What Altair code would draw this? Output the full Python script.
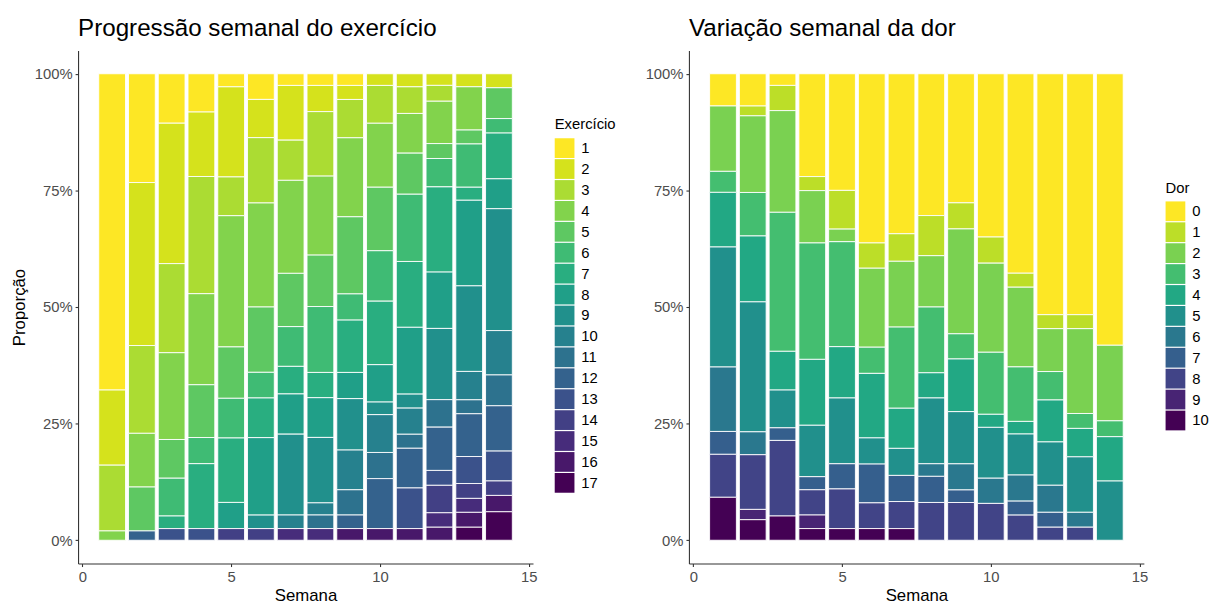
import altair as alt
import pandas as pd

# ---------------- data (percent of each level per week) ----------------
weeks = list(range(1, 15))

ex_levels = [
    [1, 2, 3, 4],
    [1, 2, 3, 4, 5, 12],
    [1, 2, 3, 4, 5, 6, 7, 13],
    [1, 2, 3, 4, 5, 6, 7, 13],
    [1, 2, 3, 4, 5, 6, 7, 8, 14],
    [1, 2, 3, 4, 5, 6, 7, 8, 9, 14],
    [1, 2, 3, 4, 5, 6, 7, 8, 9, 10, 15],
    [1, 2, 3, 4, 5, 6, 7, 8, 9, 10, 11, 15],
    [1, 2, 3, 4, 5, 6, 7, 8, 9, 10, 11, 12, 16],
    [2, 3, 4, 5, 6, 7, 8, 9, 10, 11, 12, 16],
    [2, 3, 4, 5, 6, 7, 8, 9, 10, 11, 12, 13, 16],
    [2, 3, 4, 5, 6, 7, 8, 9, 11, 12, 13, 14, 15, 16],
    [2, 4, 5, 6, 7, 8, 9, 10, 11, 12, 13, 14, 15, 16, 17],
    [2, 5, 6, 7, 8, 9, 10, 11, 12, 13, 14, 16, 17],
]
ex_pct = [
    [67.8, 16.1, 14.1, 2.0],
    [23.3, 34.9, 18.8, 11.5, 9.4, 2.0],
    [10.6, 30.1, 19.1, 18.6, 8.3, 8.1, 2.7, 2.5],
    [8.2, 13.8, 25.1, 19.5, 11.3, 5.6, 13.9, 2.5],
    [2.8, 19.3, 8.3, 28.1, 11.0, 8.5, 13.8, 5.6, 2.5],
    [5.5, 8.2, 14.0, 22.3, 14.0, 5.5, 8.5, 16.6, 2.9, 2.5],
    [2.5, 11.7, 8.6, 19.9, 11.4, 8.5, 5.9, 8.6, 17.3, 2.9, 2.5],
    [2.5, 5.6, 13.8, 16.9, 11.0, 14.1, 5.4, 8.5, 14.0, 2.6, 2.9, 2.5],
    [2.5, 3.0, 8.2, 16.9, 16.5, 5.6, 11.2, 5.6, 11.0, 8.5, 5.4, 2.9, 2.5],
    [2.5, 8.1, 13.7, 13.6, 10.8, 13.6, 8.0, 2.7, 8.1, 5.6, 10.7, 2.5],
    [2.8, 5.7, 8.5, 8.8, 14.4, 14.1, 14.3, 3.0, 5.6, 3.0, 8.5, 8.7, 2.5],
    [2.5, 3.4, 9.1, 3.2, 6.1, 18.3, 12.1, 15.3, 5.9, 9.3, 3.2, 5.9, 3.1, 2.8],
    [2.8, 9.3, 3.0, 9.3, 2.8, 18.4, 18.4, 6.1, 3.0, 9.2, 5.8, 3.2, 3.0, 3.2, 2.8],
    [3.0, 6.6, 3.1, 9.8, 6.4, 26.1, 9.5, 6.6, 9.7, 6.4, 3.1, 3.5, 6.1],
]
ex_domain = list(range(1, 18))

dor_levels = [
    [0, 2, 3, 4, 5, 6, 7, 8, 10],
    [0, 1, 2, 3, 4, 5, 6, 8, 9, 10],
    [0, 1, 2, 3, 4, 5, 7, 8, 10],
    [0, 1, 2, 3, 4, 5, 7, 8, 9, 10],
    [0, 1, 2, 3, 4, 5, 7, 8, 10],
    [0, 1, 2, 3, 4, 5, 7, 8, 10],
    [0, 1, 2, 3, 4, 5, 7, 8, 10],
    [0, 1, 2, 3, 4, 5, 6, 7, 8],
    [0, 1, 2, 3, 4, 5, 6, 7, 8],
    [0, 1, 2, 3, 4, 5, 6, 8],
    [0, 1, 2, 3, 4, 5, 6, 7, 8],
    [0, 1, 2, 3, 4, 5, 6, 7, 8],
    [0, 1, 2, 3, 4, 5, 6, 8],
    [0, 2, 3, 4, 5],
]
dor_pct = [
    [6.9, 14.0, 4.5, 11.7, 25.7, 13.8, 4.9, 9.2, 9.2],
    [6.9, 2.1, 16.4, 9.3, 14.1, 27.8, 4.9, 11.7, 2.2, 4.4],
    [2.5, 5.4, 21.8, 29.8, 8.3, 8.1, 2.7, 16.2, 5.2],
    [22.0, 3.0, 11.2, 24.9, 14.1, 11.0, 2.8, 5.4, 2.9, 2.5],
    [25.0, 8.3, 2.7, 22.5, 11.0, 14.1, 5.4, 8.5, 2.5],
    [36.2, 5.4, 16.9, 5.6, 13.8, 5.6, 8.3, 5.5, 2.5],
    [34.3, 5.9, 14.1, 17.4, 8.6, 5.8, 5.6, 5.8, 2.5],
    [30.4, 8.6, 11.0, 14.1, 5.4, 14.1, 2.7, 5.6, 8.1],
    [27.7, 5.6, 22.5, 5.4, 11.3, 11.2, 5.6, 2.7, 8.1],
    [35.0, 5.6, 19.1, 13.3, 2.8, 10.9, 5.4, 7.9],
    [42.8, 3.0, 17.1, 11.7, 2.7, 8.8, 5.6, 3.0, 5.4],
    [51.7, 3.0, 9.2, 6.1, 9.0, 9.3, 5.8, 3.2, 2.8],
    [51.7, 3.0, 18.2, 3.2, 6.1, 11.9, 3.2, 2.8],
    [58.2, 16.2, 3.4, 9.5, 12.7],
]
dor_domain = list(range(0, 11))

x_ticks = [0, 5, 10, 15]
y_ticks = [0, 0.25, 0.5, 0.75, 1.0]

# viridis reference stops (16 evenly spaced colours), used to sample n colours
VIRIDIS16 = ["#440154", "#481A6C", "#472F7D", "#414487", "#39568C", "#31688E",
             "#2A788E", "#23888E", "#1F988B", "#22A884", "#35B779", "#54C568",
             "#7AD151", "#A5DB36", "#D2E21B", "#FDE725"]


def viridis(n):
    stops = [tuple(int(h[i:i + 2], 16) for i in (1, 3, 5)) for h in VIRIDIS16]
    out = []
    for k in range(n):
        t = k / (n - 1) * (len(stops) - 1)
        i = min(int(t), len(stops) - 2)
        f = t - i
        c = [round(stops[i][j] + (stops[i + 1][j] - stops[i][j]) * f) for j in range(3)]
        out.append("#%02X%02X%02X" % tuple(c))
    return out


def to_frame(levels, pcts):
    rows = []
    for w, lv, pc in zip(weeks, levels, pcts):
        for l, p in zip(lv, pc):
            rows.append({"semana": w, "nivel": l, "pct": p})
    return pd.DataFrame(rows)


ex_df = to_frame(ex_levels, ex_pct)
dor_df = to_frame(dor_levels, dor_pct)

FONT = "Liberation Sans"
VIEW_W, VIEW_H = 461, 520


def panel(df, domain, title, legend_title, y_title, legend_y):
    y_axis = alt.Axis(values=y_ticks, format=".0%", title=y_title)
    colors = viridis(len(domain))[::-1]
    return (
        alt.Chart(df)
        .transform_stack(
            stack="pct", as_=["y0", "y1"], groupby=["semana"],
            sort=[alt.SortField("nivel", order="descending")], offset="normalize",
        )
        .transform_calculate(x0="datum.semana - 0.45", x1="datum.semana + 0.45")
        .mark_bar(stroke="white", strokeWidth=0.9)
        .encode(
            x=alt.X("x0:Q", scale=alt.Scale(domain=[-0.145, 15.145], nice=False, zero=False),
                    axis=alt.Axis(values=x_ticks, format="d", title="Semana")),
            x2="x1:Q",
            y=alt.Y("y0:Q", scale=alt.Scale(domain=[-0.05, 1.05], nice=False, zero=False),
                    axis=y_axis),
            y2="y1:Q",
            color=alt.Color(
                "nivel:O",
                scale=alt.Scale(domain=domain, range=colors),
                legend=alt.Legend(
                    title=legend_title, orient="none", legendX=483, legendY=legend_y,
                    symbolType="square", symbolSize=400, symbolStrokeWidth=0,
                    symbolOpacity=1, rowPadding=1.2, padding=0,
                    labelFontSize=15, labelColor="black", labelFont=FONT, labelOffset=7,
                    titleFontSize=15, titleFontWeight="normal", titleColor="black",
                    titleFont=FONT, titlePadding=6,
                ),
            ),
        )
        .properties(
            width=VIEW_W, height=VIEW_H,
            title=alt.TitleParams(text=title, anchor="start", frame="group", fontSize=24.5,
                                  fontWeight="normal", color="black", font=FONT,
                                  baseline="alphabetic", offset=-10),
        )
    )


left = panel(ex_df, ex_domain, "Progressão semanal do exercício", "Exercício", "Proporção", 68)
right = panel(dor_df, dor_domain, "Variação semanal da dor", "Dor", None, 132)

chart = (
    alt.hconcat(left, right, spacing=29)
    .resolve_scale(color="independent", x="independent", y="independent")
    .properties(padding={"left": 2, "top": 4, "right": 0, "bottom": 0})
    .configure_view(stroke=None)
    .configure_axis(
        grid=False, domainColor="#333333", domainWidth=1.1, tickColor="#333333",
        tickSize=3, tickWidth=1.1, labelFont=FONT, labelFontSize=15, labelColor="#4D4D4D",
        labelPadding=3, titleFont=FONT, titleFontSize=17, titleFontWeight="normal",
        titleColor="black",
    )
    .configure_axisY(titlePadding=6)
    .configure_axisX(titlePadding=3)
)

chart.save("out.html", embed_options={"renderer": "svg", "actions": False})
